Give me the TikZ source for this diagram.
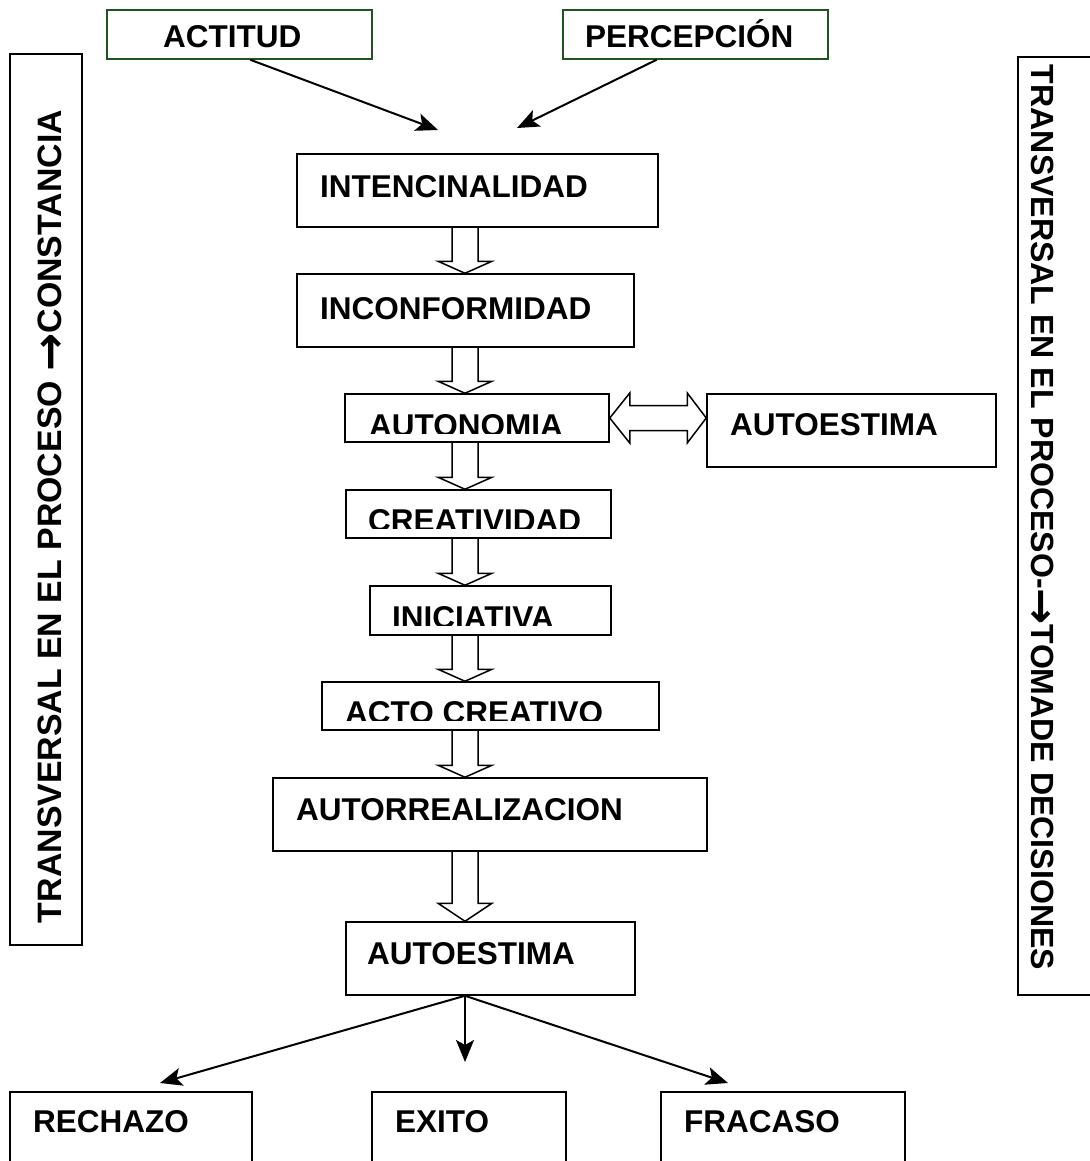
\documentclass[tikz,border=0pt]{standalone}
\usepackage{fontspec}
\usepackage{graphicx}
\setmainfont{Liberation Sans}
\newfontfamily\arrowfont{DejaVu Sans}
\usetikzlibrary{arrows.meta,calc}
\definecolor{boxgreen}{RGB}{30,85,30}
\tikzset{
  box/.style={draw=black, line width=1.5pt, rectangle, inner sep=0pt},
  gbox/.style={box, draw=boxgreen},
  lbl/.style={anchor=base west, inner sep=0pt, font=\fontsize{31.5}{36}\selectfont\bfseries},
  sidelbl/.style={inner sep=0pt, font=\fontsize{31.5}{36}\selectfont\bfseries},
  link/.style={line width=2pt, -{Stealth[length=22pt,width=18pt,inset=5pt]}},
  block/.style={draw=black, line width=1.5pt, line join=miter},
}
\newcommand\sidearrow{\raisebox{-0.12em}{\scalebox{1.35}{\arrowfont\bfseries →}}}
\newcommand\downblock[3][12]{%
  \draw[block] ($(#2.south -| ax)+(-13,0)$) -- ($(#3.north -| ax)+(-13,-#1)$)
    -- ($(#3.north -| ax)+(-27,-#1)$) -- (#3.north -| ax)
    -- ($(#3.north -| ax)+(27,-#1)$) -- ($(#3.north -| ax)+(13,-#1)$)
    -- ($(#2.south -| ax)+(13,0)$);}
\begin{document}
\begin{tikzpicture}[x=1pt,y=-1pt]
\useasboundingbox (0,0) rectangle (1089,1161);
\coordinate (ax) at (465,0);

% top boxes
\node[gbox, minimum width=265pt, minimum height=49pt] (actitud) at (239.5,34.5) {};
\node[lbl] (tactitud) at (163,48) {ACTITUD};
\node[gbox, minimum width=265pt, minimum height=49pt] (percep) at (695.5,34.5) {};
\node[lbl] (tpercep) at (585,48) {PERCEPCIÓN};

% side boxes
\node[box, minimum width=72pt, minimum height=891pt] (lside) at (46,499.5) {};
\node[sidelbl, rotate=90] (tlside) at (52,516.5) {\resizebox{813pt}{!}{TRANSVERSAL EN EL PROCESO \sidearrow CONSTANCIA}};
\node[box, minimum width=82pt, minimum height=938pt] (rside) at (1059,526) {};
\node[sidelbl, rotate=-90] (trside) at (1041,517.5) {\resizebox{905pt}{!}{TRANSVERSAL EN EL PROCESO-\sidearrow TOMADE DECISIONES}};

% main chain
\node[box, minimum width=361pt, minimum height=73pt] (intenc) at (477.5,190.5) {};
\node[lbl] (tintenc) at (320,197) {INTENCINALIDAD};

\node[box, minimum width=337pt, minimum height=73pt] (inconf) at (465.5,310.5) {};
\node[lbl] (tinconf) at (320,319) {INCONFORMIDAD};

\node[box, minimum width=264pt, minimum height=48pt] (auton) at (477,418) {};
\begin{scope}
  \clip (346,395) rectangle (608,433);
  \node[lbl] (tauton) at (369,436) {AUTONOMIA};
\end{scope}

\node[box, minimum width=289pt, minimum height=73pt] (autoest1) at (851.5,430.5) {};
\node[lbl] (tautoest1) at (730,435) {AUTOESTIMA};

\node[box, minimum width=265pt, minimum height=48pt] (creat) at (478.5,514) {};
\begin{scope}
  \clip (347,491) rectangle (610,528);
  \node[lbl] (tcreat) at (368,531) {CREATIVIDAD};
\end{scope}

\node[box, minimum width=241pt, minimum height=49pt] (inic) at (490.5,610.5) {};
\begin{scope}
  \clip (371,587) rectangle (610,625);
  \node[lbl] (tinic) at (392,628) {INICIATIVA};
\end{scope}

\node[box, minimum width=337pt, minimum height=48pt] (acto) at (490.5,706) {};
\begin{scope}
  \clip (323,683) rectangle (658,720);
  \node[lbl] (tacto) at (345,723) {ACTO CREATIVO};
\end{scope}

\node[box, minimum width=434pt, minimum height=73pt] (autorr) at (490,814.5) {};
\node[lbl] (tautorr) at (296,820) {AUTORREALIZACION};

\node[box, minimum width=289pt, minimum height=73pt] (autoest2) at (490.5,958.5) {};
\node[lbl] (tautoest2) at (367,964) {AUTOESTIMA};

% bottom boxes
\node[box, minimum width=242pt, minimum height=88pt] (rechazo) at (131,1136) {};
\node[lbl] (trechazo) at (33,1132) {RECHAZO};
\node[box, minimum width=194pt, minimum height=88pt] (exito) at (469,1136) {};
\node[lbl] (texito) at (395,1132) {EXITO};
\node[box, minimum width=244pt, minimum height=88pt] (fracaso) at (783,1136) {};
\node[lbl] (tfracaso) at (684,1132) {FRACASO};

% top arrows
\coordinate (tipA) at (438,130);
\coordinate (tipP) at (517,128);
\draw[link] (actitud.-67) -- (tipA);
\draw[link] (percep.213) -- (tipP);

% hollow block arrows
\downblock{intenc}{inconf}
\downblock{inconf}{auton}
\downblock{auton}{creat}
\downblock{creat}{inic}
\downblock{inic}{acto}
\downblock{acto}{autorr}
\downblock[18]{autorr}{autoest2}

% double block arrow
\coordinate (L) at (auton.east);
\coordinate (R) at (auton.east -| autoest1.west);
\draw[block] (L) -- ($(L)+(20,-25)$) -- ($(L)+(20,-12.5)$) -- ($(R)+(-19,-12.5)$)
  -- ($(R)+(-19,-25)$) -- (R) -- ($(R)+(-19,25)$) -- ($(R)+(-19,12.5)$)
  -- ($(L)+(20,12.5)$) -- ($(L)+(20,25)$) -- cycle;

% bottom arrows
\coordinate (tipR) at (160,1083);
\coordinate (tipE) at (465,1062);
\coordinate (tipF) at (728,1083);
\draw[link] (autoest2.south -| ax) -- (tipR);
\draw[link] (autoest2.south -| ax) -- (tipE);
\draw[link] (autoest2.south -| ax) -- (tipF);
\end{tikzpicture}
\end{document}
